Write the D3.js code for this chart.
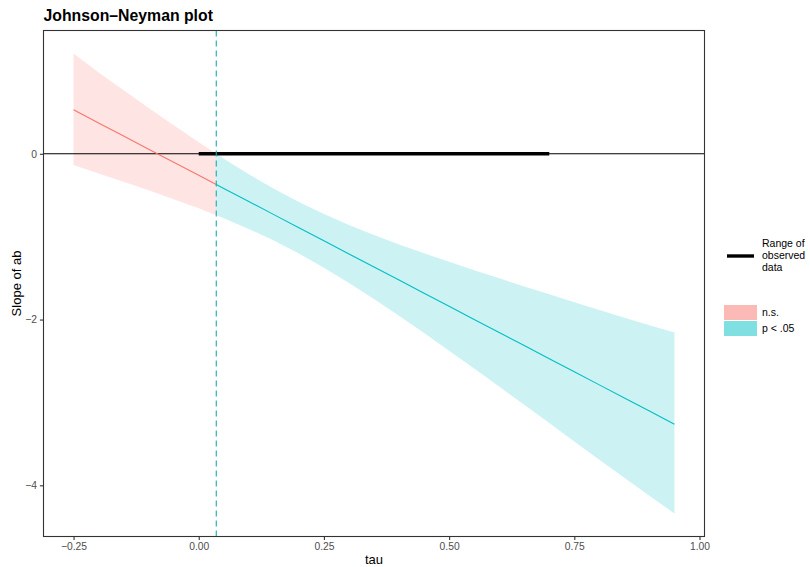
<!DOCTYPE html>
<html>
<head>
<meta charset="utf-8">
<script src="https://cdn.jsdelivr.net/npm/d3@7"></script>
<style>
  body { margin: 0; background: #fff; }
  text { font-family: "Liberation Sans", Arial, Helvetica, sans-serif; }
</style>
</head>
<body>
<svg id="chart" width="810" height="567"></svg>
<script>
// Conditional slope of ab across values of the moderator tau
const tau   = [-0.25, -0.20, -0.15, -0.10, -0.05, 0.00, 0.035, 0.05, 0.10, 0.15, 0.20, 0.25, 0.30, 0.35, 0.40, 0.45, 0.50, 0.55, 0.60, 0.65, 0.70, 0.75, 0.80, 0.85, 0.90, 0.95];
const slope = [0.53, 0.372, 0.214, 0.056, -0.102, -0.26, -0.371, -0.418, -0.576, -0.734, -0.892, -1.05, -1.208, -1.366, -1.524, -1.682, -1.84, -1.998, -2.156, -2.314, -2.472, -2.63, -2.788, -2.946, -3.104, -3.262];
const upper = [1.21, 0.982, 0.766, 0.552, 0.343, 0.138, 0.0, -0.059, -0.246, -0.421, -0.581, -0.726, -0.858, -0.98, -1.093, -1.201, -1.304, -1.405, -1.503, -1.60, -1.695, -1.79, -1.884, -1.977, -2.069, -2.157];
const lower = [-0.135, -0.238, -0.338, -0.44, -0.547, -0.658, -0.741, -0.777, -0.906, -1.047, -1.203, -1.374, -1.558, -1.752, -1.955, -2.163, -2.376, -2.591, -2.809, -3.028, -3.249, -3.47, -3.69, -3.91, -4.125, -4.34];

// Johnson–Neyman bound and range of observed moderator values
const jnBound = 0.035;
const observedRange = [0.0, 0.70];

// Axis ticks and labels
const xTicks = [-0.25, 0, 0.25, 0.5, 0.75, 1.0];
const xTickLabels = ["\u22120.25", "0.00", "0.25", "0.50", "0.75", "1.00"];
const yTicks = [-4, -2, 0];
const yTickLabels = ["\u22124", "\u22122", "0"];

// Legend entries
const legendFill = ["n.s.", "p < .05"];

const colNs = "#F8766D", colSig = "#00BFC4";

const rows = tau.map((t, i) => ({ t, s: slope[i], u: upper[i], l: lower[i] }));
const nsRows = rows.filter(d => d.t <= jnBound);
const sigRows = rows.filter(d => d.t >= jnBound);

const svg = d3.select("#chart");
const panel = { left: 43.5, right: 704.5, top: 30.5, bottom: 536.5 };

// ggplot-style 5% expansion of the data range
function expand(ext) { const r = ext[1] - ext[0]; return [ext[0] - r * 0.05, ext[1] + r * 0.05]; }
const x = d3.scaleLinear().domain(expand(d3.extent(tau))).range([panel.left, panel.right]);
const y = d3.scaleLinear().domain(expand([d3.min(lower), d3.max(upper)])).range([panel.bottom, panel.top]);

svg.append("rect").attr("width", 810).attr("height", 567).attr("fill", "#fff");

svg.append("clipPath").attr("id", "clip").append("rect")
  .attr("x", panel.left).attr("y", panel.top)
  .attr("width", panel.right - panel.left).attr("height", panel.bottom - panel.top);

const plot = svg.append("g").attr("clip-path", "url(#clip)");

const area = d3.area().x(d => x(d.t)).y0(d => y(d.l)).y1(d => y(d.u));
const line = d3.line().x(d => x(d.t)).y(d => y(d.s));

plot.append("path").datum(nsRows).attr("d", area).attr("fill", colNs).attr("fill-opacity", 0.2);
plot.append("path").datum(sigRows).attr("d", area).attr("fill", colSig).attr("fill-opacity", 0.2);

// zero reference line
plot.append("line")
  .attr("x1", panel.left).attr("x2", panel.right)
  .attr("y1", y(0)).attr("y2", y(0))
  .attr("stroke", "#000").attr("stroke-width", 1.1);

// range of observed data
plot.append("line")
  .attr("x1", x(observedRange[0])).attr("x2", x(observedRange[1]))
  .attr("y1", y(0)).attr("y2", y(0))
  .attr("stroke", "#000").attr("stroke-width", 3.4);

plot.append("path").datum(nsRows).attr("d", line).attr("fill", "none").attr("stroke", colNs).attr("stroke-width", 1.1);
plot.append("path").datum(sigRows).attr("d", line).attr("fill", "none").attr("stroke", colSig).attr("stroke-width", 1.1);

// Johnson–Neyman bound
plot.append("line")
  .attr("x1", x(jnBound)).attr("x2", x(jnBound))
  .attr("y1", panel.top).attr("y2", panel.bottom)
  .attr("stroke", "#1AA9AD").attr("stroke-width", 1.1)
  .attr("stroke-dasharray", "6,4");

// panel border
svg.append("rect")
  .attr("x", panel.left).attr("y", panel.top)
  .attr("width", panel.right - panel.left).attr("height", panel.bottom - panel.top)
  .attr("fill", "none").attr("stroke", "#333").attr("stroke-width", 1.1);

// axes
const xAxis = d3.axisBottom(x).tickValues(xTicks).tickFormat((d, i) => xTickLabels[i]).tickSize(3.6).tickPadding(3);
const gx = svg.append("g").attr("transform", `translate(0,${panel.bottom})`).call(xAxis);
gx.select(".domain").remove();
gx.selectAll(".tick line").attr("stroke", "#333").attr("stroke-width", 1.1);
gx.selectAll(".tick text").attr("fill", "#4D4D4D").attr("font-size", "10.3px").attr("font-family", "Liberation Sans, Arial, sans-serif");

const yAxis = d3.axisLeft(y).tickValues(yTicks).tickFormat((d, i) => yTickLabels[i]).tickSize(3.6).tickPadding(3);
const gy = svg.append("g").attr("transform", `translate(${panel.left},0)`).call(yAxis);
gy.select(".domain").remove();
gy.selectAll(".tick line").attr("stroke", "#333").attr("stroke-width", 1.1);
gy.selectAll(".tick text").attr("fill", "#4D4D4D").attr("font-size", "10.3px").attr("font-family", "Liberation Sans, Arial, sans-serif");

// titles
svg.append("text").attr("x", panel.left).attr("y", 21)
  .attr("font-size", "15.8px").attr("font-weight", "bold").attr("fill", "#000")
  .text("Johnson\u2013Neyman plot");

svg.append("text").attr("x", (panel.left + panel.right) / 2).attr("y", 563.5)
  .attr("text-anchor", "middle").attr("font-size", "13px").attr("fill", "#000")
  .text("tau");

svg.append("text")
  .attr("transform", `translate(21,${(panel.top + panel.bottom) / 2}) rotate(-90)`)
  .attr("text-anchor", "middle").attr("font-size", "13px").attr("fill", "#000")
  .text("Slope of ab");

// legend: observed range
const lg = svg.append("g");
lg.append("line").attr("x1", 727).attr("x2", 754).attr("y1", 256).attr("y2", 256)
  .attr("stroke", "#000").attr("stroke-width", 3.4);
["Range of", "observed", "data"].forEach((s, i) => {
  lg.append("text").attr("x", 762).attr("y", 247 + i * 11.8)
    .attr("font-size", "10.5px").attr("fill", "#000").text(s);
});

// legend: significance fill
const keyFill = [colNs, colSig];
legendFill.forEach((s, i) => {
  const top = 305 + i * 16;
  lg.append("rect").attr("x", 724).attr("y", top).attr("width", 33).attr("height", 15)
    .attr("fill", keyFill[i]).attr("fill-opacity", 0.5);
  lg.append("text").attr("x", 762).attr("y", top + 11)
    .attr("font-size", "10.5px").attr("fill", "#000").text(s);
});
</script>
</body>
</html>
